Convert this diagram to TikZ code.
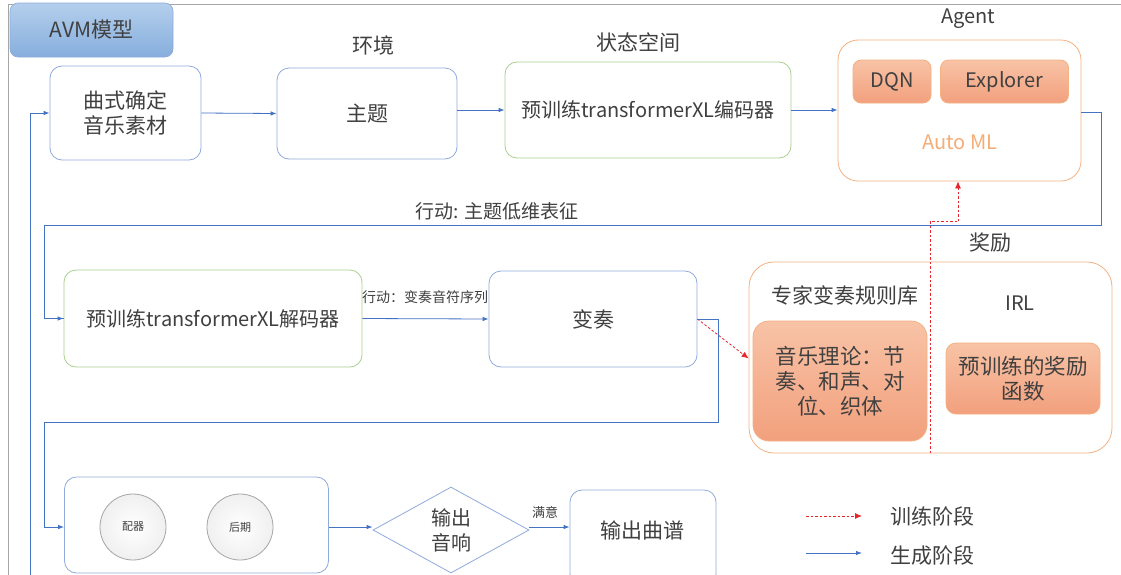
\documentclass[tikz,border=0pt]{standalone}
\usepackage{fontspec}
\setmainfont{Noto Sans CJK SC}
\usetikzlibrary{shapes.geometric,arrows.meta,calc}
\definecolor{lineblue}{HTML}{4472C4}
\definecolor{boxblue}{HTML}{8FAADC}
\definecolor{boxgreen}{HTML}{A9D18E}
\definecolor{boxorange}{HTML}{F4B183}
\definecolor{fillorangeA}{HTML}{F8C3A6}
\definecolor{fillorangeB}{HTML}{F2A07D}
\definecolor{txt}{HTML}{404040}
\definecolor{framegray}{HTML}{A6A6A6}
\definecolor{avmtop}{HTML}{B4CFEC}
\definecolor{avmbot}{HTML}{86AEDD}
\definecolor{trainred}{HTML}{E8242C}
\begin{document}
\begin{tikzpicture}[x=1pt,y=-1pt,
  every node/.style={text=txt},
  base/.style={font=\fontsize{21}{25}\selectfont},
  card/.style={base, draw=boxblue, line width=0.8pt, rounded corners=12pt, fill=white, align=center, inner sep=0pt},
  gcard/.style={card, draw=boxgreen},
  ocard/.style={card, draw=boxorange, rounded corners=20pt},
  ofill/.style={base, draw=boxorange, line width=0.8pt, top color=fillorangeA, bottom color=fillorangeB, rounded corners=8pt, align=center, inner sep=0pt},
  lbl/.style={base, inner sep=0pt},
  small/.style={font=\fontsize{14}{16}\selectfont, inner sep=0pt},
  flow/.style={draw=lineblue, line width=0.8pt, -{Latex[length=6pt,width=4.5pt]}},
  wire/.style={draw=lineblue, line width=0.8pt},
  train/.style={draw=trainred, line width=0.8pt, dash pattern=on 2.5pt off 2pt, -{Latex[length=7pt,width=6pt]}},
  trainline/.style={draw=trainred, line width=0.8pt, dash pattern=on 2.5pt off 2pt},
  disc/.style={circle, draw=gray!70, line width=0.8pt, minimum size=66pt, inner sep=0pt, inner color=white, outer color=gray!12, font=\fontsize{11}{13}\selectfont}
]
\useasboundingbox (0,0) rectangle (1121,574);
\clip (0,0) rectangle (1121,574);
\fill[white] (0,0) rectangle (1121,574);
% outer frame
\draw[framegray, line width=1pt] (8,600) -- (8,4) -- (1130,4);

% title
\node[draw=boxblue, line width=0.6pt, rounded corners=8pt, top color=avmtop, bottom color=avmbot, minimum width=163pt, minimum height=54pt, font=\fontsize{21}{24}\selectfont] (avm) at (91.5,30) {AVM模型};

% top row
\node[card, minimum width=151pt, minimum height=94pt] (src) at (125.5,113) {曲式确定\\音乐素材};
\node[card, minimum width=180pt, minimum height=91pt] (theme) at (367,113.5) {主题};
\node[lbl] (envlbl) at (373,45) {环境};
\node[gcard, minimum width=286pt, minimum height=96pt, font=\fontsize{20}{24}\selectfont] (enc) at (648,110) {预训练transformerXL编码器};
\node[lbl] (statelbl) at (638,42) {状态空间};
\node[ocard, minimum width=243pt, minimum height=141pt] (agent) at (959.5,110.5) {};
\node[lbl, font=\fontsize{20}{24}\selectfont] (agentlbl) at (968,19) {Agent};
\node[ofill, minimum width=78pt, minimum height=43pt, font=\fontsize{20}{24}\selectfont] (dqn) at (892,81.5) {DQN};
\node[ofill, minimum width=128pt, minimum height=43pt, font=\fontsize{20}{24}\selectfont] (expl) at (1004.5,81.5) {Explorer};
\node[lbl, text=boxorange!90!orange, font=\fontsize{20}{24}\selectfont] (automl) at (960,142) {Auto ML};

\draw[flow] (src.east) -- (theme.west);
\draw[flow] (theme.east |- enc.west) -- (enc.west);
\draw[flow] (enc.east) -- (agent.west |- enc.east);

% middle row
\node[gcard, minimum width=298pt, minimum height=97pt, font=\fontsize{20}{24}\selectfont] (dec) at (213,318.5) {预训练transformerXL解码器};
\node[card, minimum width=208pt, minimum height=96pt] (var) at (593,319) {变奏};
\node[ocard, rounded corners=25pt, minimum width=363pt, minimum height=191pt] (expert) at (930.5,357.5) {};
\node[lbl] (explbl) at (845,295) {专家变奏规则库};
\node[lbl, font=\fontsize{20}{24}\selectfont] (irl) at (1020,303) {IRL};
\node[ofill, rounded corners=16pt, minimum width=174pt, minimum height=120pt, font=\fontsize{21.5}{25}\selectfont] (theory) at (840,381) {音乐理论：节\\奏、和声、对\\位、织体};
\node[ofill, rounded corners=10pt, minimum width=154pt, minimum height=71pt, font=\fontsize{21.5}{25}\selectfont] (reward) at (1023,378.5) {预训练的奖励\\函数};
\node[lbl] (rewlbl) at (990,243) {奖励};

% action: agent -> decoder
\coordinate (a1) at (1101,112);
\coordinate (a2) at (1101,225);
\coordinate (a3) at (44,225);
\draw[wire] (agent.east |- a1) -- (a1) -- (a2) -- (a3) |- (dec.west);
\draw[flow] (a3 |- dec.west) -- (dec.west);
\node[lbl, font=\fontsize{19}{22}\selectfont] (actlbl) at (497,211) {行动: 主题低维表征};

\draw[flow] (dec.east) -- (var.west);
\node[small] (act2lbl) at (425,297) {行动：变奏音符序列};

% variation -> expert (training)
\draw[train] (var.east) -- ([yshift=-1pt]expert.west);

% reward dashed to agent
\coordinate (r1) at (930,453);
\coordinate (r2) at (930,221);
\coordinate (r3) at (958,221);
\draw[trainline] (r1) -- (r2) -- (r3);
\draw[train] (r3) -- (agent.south -| r3);

% bottom row
\node[card, draw=boxblue, minimum width=264pt, minimum height=96pt] (group) at (196.5,525) {};
\node[disc] (orch) at (133,527) {配器};
\node[disc] (post) at (240,527) {后期};
\node[diamond, draw=boxblue, line width=0.8pt, minimum width=156pt, minimum height=86pt, inner sep=0pt, align=center, font=\fontsize{20}{25}\selectfont] (out) at (451,530) {输出\\音响};
\node[card, minimum width=146pt, minimum height=96pt] (score) at (643,538) {};
\node[lbl] (scoretxt) at (642,530) {输出曲谱};
\node[small, font=\fontsize{13}{15}\selectfont] (satis) at (545,512) {满意};

% variation -> group loop
\coordinate (v1) at (718,319);
\coordinate (v2) at (718,422);
\coordinate (v3) at (44,422);
\draw[wire] (var.east) -- (v1) -- (v2) -- (v3) -- (v3 |- orch);
\draw[flow] (v3 |- orch) -- (group.west |- orch);

\draw[flow] (group.east |- orch) -- (out.west |- orch);
\draw[flow] (out.east |- orch) -- (score.west |- orch);

% left feedback line
\coordinate (f1) at (30,600);
\coordinate (f2) at (30,113);
\draw[wire] (f1) -- (f2);
\draw[flow] (f2) -- (src.west);

% legend
\coordinate (l1) at (806,516);
\coordinate (l2) at (862,516);
\coordinate (l3) at (806,553);
\coordinate (l4) at (862,553);
\draw[train] (l1) -- (l2);
\draw[flow] (l3) -- (l4);
\node[lbl, font=\fontsize{21}{24}\selectfont] (leg1) at (932,516) {训练阶段};
\node[lbl, font=\fontsize{21}{24}\selectfont] (leg2) at (932,556) {生成阶段};
\end{tikzpicture}
\end{document}
